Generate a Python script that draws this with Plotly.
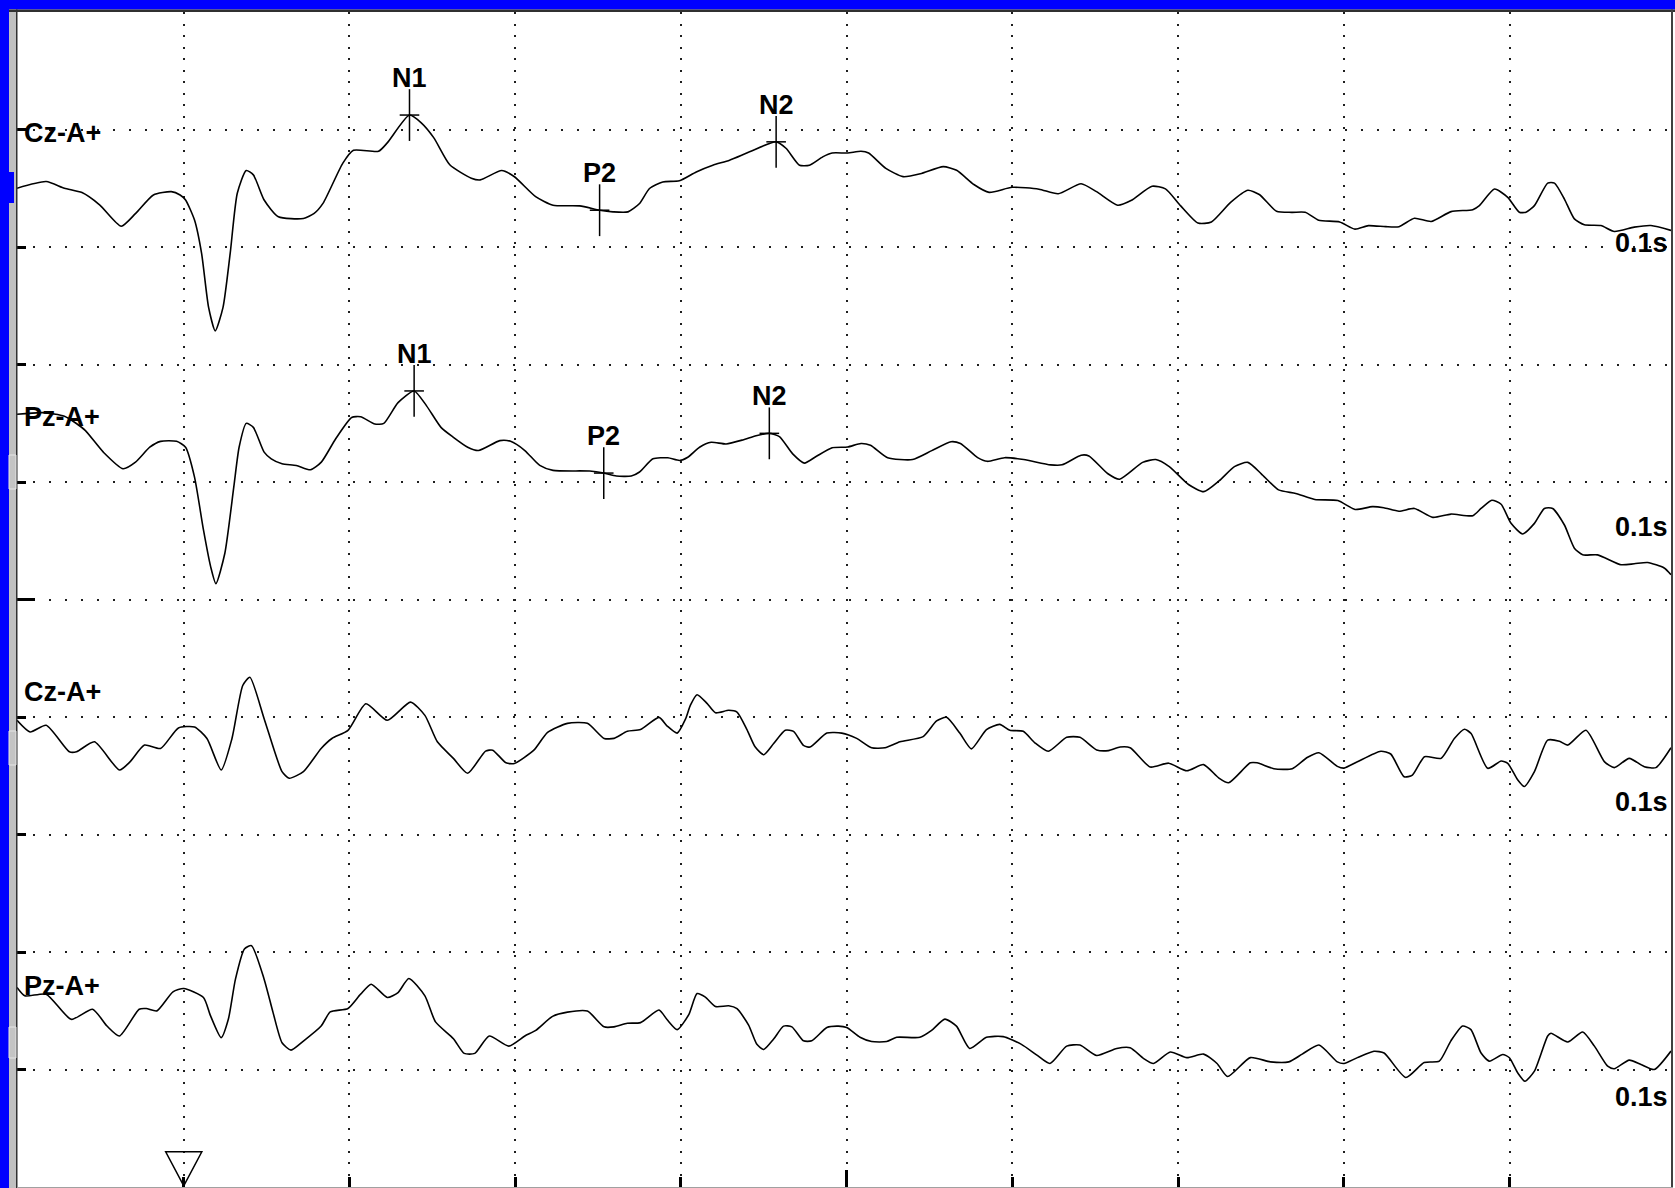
import plotly.graph_objects as go

# ---------------------------------------------------------------------------
# Averaged evoked responses, four channels, time in ms relative to stimulus.
# Amplitudes in microvolts, plotted negative-up (clinical convention).
# ---------------------------------------------------------------------------
T_MIN, T_MAX = -100.6, 897.3
STIM_ONSET = 0.0
UV_PER_DIV = 10.0                      # one grid division = 10 uV
CH_NAMES = ["Cz-A+", "Pz-A+", "Cz-A+", "Pz-A+"]
CH_OFFSET = [7.5, 5.4, 2.8, 0.5]       # trace baselines, in grid divisions
CH_LABEL_Y = [7.97, 5.55, 3.21, 0.71]  # name label heights, grid divisions
SWEEP_LABEL = "0.1s"
SWEEP_LABEL_Y = [7.03, 4.62, 2.28, -0.23]

cz1_t = [-100.6, -83, -72, -61.4, -50.6, -37.7, -29, -18.3, -7.5, -2.2, 1.1, 6.5,
         10.8, 15, 19, 23.7, 28, 32.3, 37.7, 42, 48.5, 57.1, 72.2, 78.7, 84, 96,
         102.4, 117.5, 122.8, 136.2, 143.3, 150.9, 160.5, 173.5, 178.9, 191.8,
         199.3, 212.3, 222.8, 238.9, 250.9, 259, 268, 275, 281, 289, 299, 309.2,
         319.2, 329.3, 341.4, 357.4, 363.5, 371.5, 377.5, 385.5, 391.2, 400.5,
         408.6, 413.2, 423.6, 434, 444.4, 458.2, 466.3, 476.7, 485.9, 499.8, 516,
         527.6, 541.4, 550.7, 563.4, 571.5, 584.2, 592.3, 601.5, 611.9, 620,
         631.6, 642, 648.9, 659.3, 668.5, 676.6, 684.7, 697.4, 706.6, 714.7,
         725.2, 733.2, 742.5, 752.6, 764.6, 777.7, 781.7, 790.8, 798.8, 805.8,
         809.8, 814.9, 822.9, 827, 833, 839, 845, 855, 863.1, 875.1, 885.2, 897.3]
cz1_uv = [0.0, -0.57, 0.0, 0.37, 1.43, 3.23, 2.14, 0.57, 0.29, 0.57, 1.0, 2.71,
          5.57, 10.14, 12.14, 10.14, 5.57, 0.43, -1.51, -1.14, 1.0, 2.43, 2.57,
          2.14, 1.29, -2.14, -3.23, -3.14, -3.86, -6.23, -5.57, -4.29, -2.0,
          -0.86, -0.71, -1.51, -1.0, 0.71, 1.44, 1.5, 1.87, 2.01, 2.01, 1.3, 0.02,
          -0.54, -0.63, -1.39, -1.96, -2.39, -3.1, -3.95, -3.38, -1.96, -1.96,
          -2.67, -3.0, -3.0, -3.15, -3.0, -1.69, -0.99, -1.23, -1.84, -1.53,
          -0.32, 0.35, -0.08, 0.08, 0.47, -0.38, 0.29, 1.44, 1.05, -0.17, 0.05,
          1.5, 2.96, 2.87, 1.2, 0.17, 0.53, 1.96, 2.05, 2.05, 2.72, 2.87, 3.48,
          3.18, 3.27, 3.27, 2.55, 2.83, 1.99, 1.82, 1.48, 0.07, 0.77, 2.04, 2.04,
          1.48, -0.44, -0.44, 0.92, 2.61, 3.11, 3.17, 3.68, 3.31, 3.17, 3.59]

pz1_t = [-100.6, -85, -72, -65, -59.3, -48.5, -36.6, -29.1, -20.5, -14, -4.3, 1.1,
         6.5, 11.9, 16.2, 19.4, 24.8, 30.2, 33.4, 37.7, 42, 48.5, 52.8, 59.3,
         67.9, 76.5, 83, 91.6, 101.3, 106.7, 115.3, 120.7, 129.3, 139, 146.5,
         155.2, 162.7, 171.3, 177.8, 190.7, 197.2, 205.8, 214.8, 222.8, 244.9,
         253.4, 261, 270, 275, 283.1, 292.1, 299.1, 304.1, 311.2, 318.2, 327.2,
         337.3, 345.3, 353.3, 359.4, 367.4, 374.4, 381.5, 391.2, 400.5, 408.6,
         414.3, 424.7, 439.7, 451.3, 462.9, 468.6, 479, 484.8, 495.2, 506.8, 523,
         529.9, 541.4, 546.1, 557.6, 564.6, 578.5, 586.5, 594.6, 606.2, 615.4,
         624.6, 633.9, 642, 650.1, 660.5, 670.9, 682.4, 696.3, 706.7, 717.1, 724,
         733.2, 742.5, 753.6, 764.6, 777.7, 782.7, 789.2, 794.8, 800.8, 807.8,
         814.9, 820.9, 825.9, 833, 839, 844, 853, 867.1, 875.1, 883.2, 893.2, 897.3]
pz1_uv = [-1.77, -1.9, -1.6, -1.0, -0.37, 1.46, 2.87, 2.31, 1.04, 0.54, 0.54, 1.04,
          3.58, 8.08, 11.18, 12.65, 10.06, 4.42, 1.04, -0.99, -0.65, 1.46, 2.03,
          2.45, 2.59, 2.96, 2.31, 0.34, -1.49, -1.55, -0.93, -0.99, -2.76, -3.75,
          -2.48, -0.65, 0.2, 1.04, 1.32, 0.48, 0.54, 1.32, 2.59, 3.01, 3.07, 3.24,
          3.49, 3.49, 3.15, 2.03, 1.94, 2.17, 1.89, 1.04, 0.62, 0.76, 0.42, 0.06,
          -0.14, 0.14, 1.61, 2.39, 1.83, 1.08, 1.02, 0.72, 0.87, 1.93, 2.09, 1.33,
          0.57, 0.72, 1.93, 2.24, 1.93, 2.09, 2.54, 2.54, 1.72, 1.78, 3.3, 3.76,
          2.33, 2.09, 2.69, 4.21, 4.82, 3.91, 2.69, 2.33, 3.3, 4.67, 4.97, 5.49,
          5.58, 6.34, 6.1, 6.19, 6.49, 6.25, 7.01, 6.73, 6.87, 6.25, 5.55, 5.89,
          7.52, 8.42, 7.52, 6.25, 6.25, 7.66, 9.63, 10.2, 10.2, 11.04, 10.96,
          10.85, 11.32, 11.89]

cz2_t = [-100.6, -92.7, -83, -69, -64.7, -53.9, -38.8, -32.3, -23.7, -14, -3.2, 6.5,
         14, 22.6, 29.1, 35.6, 39.9, 48.5, 59.3, 63.6, 72.2, 82.9, 89.4, 99.1,
         109.9, 122.8, 136.8, 145.5, 153, 162.7, 171.3, 182.1, 186.4, 194.4,
         199.4, 211.4, 219.5, 231.5, 243.5, 253.6, 259.6, 267.6, 275.6, 286.7,
         291.7, 297.7, 302.7, 305.7, 309.7, 315.7, 320.8, 328.8, 333.8, 339.8,
         344.8, 349.9, 355.9, 362.9, 367.9, 373.9, 377.9, 388, 397, 406, 415,
         423.1, 432.1, 446.1, 454.2, 460.2, 468.2, 475.2, 484.3, 492.3, 498.4,
         506.5, 513.5, 521.6, 532.7, 540.7, 550.8, 557.9, 564.9, 571, 583.1, 594.2,
         605.2, 615.3, 624.4, 630.4, 643.5, 647.6, 657.7, 668.8, 677.8, 684.9, 696,
         700, 708.1, 722.2, 728.2, 736.3, 741.3, 748.6, 758.6, 766.6, 772.7, 776.7,
         786.7, 794.8, 798.8, 804.8, 808.8, 814.9, 822.9, 830, 835, 846, 857.1,
         863.1, 872.1, 881.2, 888.2, 897.3]
cz2_uv = [-1.72, -0.73, -1.3, 0.96, 0.96, 0.11, 2.51, 1.8, 0.39, 0.68, -1.07, -1.15,
          -0.17, 2.51, -0.17, -4.68, -5.38, -1.86, 2.65, 3.21, 2.65, 0.68, -0.17,
          -0.87, -3.13, -1.72, -3.27, -2.14, 0.11, 1.52, 2.79, 0.9, 0.82, 1.9,
          1.96, 0.8, -0.69, -1.46, -1.46, -0.18, -0.18, -0.78, -0.93, -1.97,
          -1.23, -0.63, -1.82, -3.01, -3.9, -3.16, -2.36, -2.57, -2.42, -0.93,
          0.56, 1.21, 0.26, -0.87, -0.78, 0.41, 0.56, -0.63, -0.63, -0.18, 0.62,
          0.62, 0.11, -0.33, -1.67, -1.97, -0.63, 0.71, -0.93, -1.37, -0.87, -0.78,
          0.2, 0.92, -0.27, -0.27, 0.8, 0.86, 0.56, 0.62, 2.26, 1.93, 2.58, 2.05,
          3.18, 3.6, 1.9, 1.9, 2.4, 2.4, 1.45, 1.04, 2.2, 2.35, 1.81, 0.92, 1.15,
          3.09, 2.94, 1.38, 1.52, -0.17, -0.96, -0.59, 2.37, 1.75, 1.94, 3.35,
          3.92, 2.65, -0.03, 0.06, 0.39, -0.87, 1.8, 2.31, 1.52, 2.23, 2.31, 0.62]

pz2_t = [-100.6, -95.9, -83, -67.9, -55, -46.3, -38.8, -26.9, -22.6, -16.2, -6.5, 0,
         11.9, 16.2, 22.6, 26.9, 31.2, 36.6, 40.9, 48.5, 53.9, 59.3, 64.7, 72.2,
         82.9, 88.4, 99.1, 106.7, 113.1, 122.8, 129.3, 135.8, 145.5, 151.9, 162.7,
         169.2, 175.6, 184.3, 196.1, 205.8, 212.4, 222.5, 231.5, 243.5, 253.6,
         259.6, 267.6, 275.6, 286.7, 291.7, 297.7, 304.7, 309.7, 314.7, 320.8,
         328.8, 333.8, 340.8, 345.8, 349.9, 355.9, 361.9, 366.9, 373.9, 378.9, 388,
         395, 400, 408, 415, 424.1, 430.1, 444.1, 451.2, 459.2, 466.2, 474.2, 484.3,
         494.4, 505.4, 514.5, 522.6, 532.7, 540.7, 550.8, 562.9, 571, 579, 585.1,
         595.2, 605.2, 615.3, 623.4, 629.8, 643.5, 655.6, 666.7, 674.8, 684.9, 696,
         700, 708.1, 718.1, 724.2, 737.3, 748.4, 757.5, 764.5, 771.6, 776.6, 782.7,
         787.7, 795.8, 799.8, 804.8, 809.2, 814.9, 822.9, 824.9, 835, 844, 851.1,
         859.1, 863.1, 872.1, 879.2, 887.2, 897.3]
pz2_uv = [-1.98, -1.27, -1.41, 0.73, -0.13, 1.3, 2.15, -0.13, -0.19, 0.01, -1.61,
          -1.89, -1.13, 0.44, 2.29, 0.73, -2.69, -5.26, -5.54, -2.69, 0.16, 2.72,
          3.35, 2.58, 1.3, 0.1, -0.19, -1.41, -2.26, -1.13, -1.55, -2.75, -1.27,
          0.95, 2.38, 3.63, 3.63, 2.15, 3.01, 2.15, 1.67, 0.48, 0.12, 0.03, 1.37,
          1.37, 1.07, 1.01, -0.06, 0.77, 1.61, 0.33, -1.46, -1.16, -0.36, -0.42,
          -0.18, 1.22, 2.86, 3.3, 2.41, 1.31, 1.37, 2.56, 2.56, 1.43, 1.31, 1.43,
          2.26, 2.62, 2.62, 2.26, 2.26, 1.67, 0.71, 1.31, 3.21, 2.26, 2.2, 2.86,
          3.75, 4.49, 3.01, 2.92, 3.81, 3.21, 3.15, 4.05, 4.49, 3.51, 3.99, 3.69,
          4.49, 5.6, 3.99, 4.35, 4.35, 3.69, 2.92, 4.35, 4.49, 3.99, 3.45, 3.6,
          5.68, 4.4, 4.29, 2.56, 1.3, 1.61, 3.6, 4.29, 3.72, 4.0, 5.28, 6.0, 5.14,
          2.15, 1.92, 2.66, 1.81, 3.01, 4.72, 4.94, 4.2, 4.57, 5.0, 3.43]

# Component latencies (ms) marked on the first two channels
PEAKS = [
    {"N1": 136.2, "P2": 250.9, "N2": 357.4},
    {"N1": 139.0, "P2": 253.4, "N2": 353.3},
    {},
    {},
]

SERIES = [(cz1_t, cz1_uv), (pz1_t, pz1_uv), (cz2_t, cz2_uv), (pz2_t, pz2_uv)]

W, H = 1675, 1188
M_L, M_R, M_T, M_B = 17, 4, 12, 1
PLOT_W = W - M_L - M_R
PLOT_H = H - M_T - M_B


def px_x(px):
    return (px - M_L) / PLOT_W


def px_y(py):
    return (H - M_B - py) / PLOT_H


LABEL_FONT = dict(family="Liberation Sans, Arial, sans-serif", size=27,
                  color="black", weight="bold")

fig = go.Figure()

for i, (t, uv) in enumerate(SERIES):
    y = [CH_OFFSET[i] - v / UV_PER_DIV for v in uv]
    fig.add_trace(go.Scatter(x=t, y=y, mode="lines",
                             line=dict(color="black", width=1.6,
                                       shape="spline", smoothing=0.6),
                             hoverinfo="skip", showlegend=False))
    if PEAKS[i]:
        px, py, names = [], [], []
        for name, lat in PEAKS[i].items():
            k = t.index(lat)
            px.append(lat)
            py.append(CH_OFFSET[i] - uv[k] / UV_PER_DIV)
            names.append(name)
        for sym, size in (("line-ns", 37), ("line-ew", 14)):
            fig.add_trace(go.Scatter(x=px, y=py, mode="markers",
                                     marker=dict(symbol=sym, size=size,
                                                 line=dict(color="black", width=1.5)),
                                     hoverinfo="skip", showlegend=False))
        for xx, yy, nm in zip(px, py, names):
            fig.add_annotation(x=xx, y=yy, text=nm, showarrow=False, yshift=37,
                               font=LABEL_FONT)

for i, name in enumerate(CH_NAMES):
    fig.add_annotation(x=px_x(22), xref="paper", y=CH_LABEL_Y[i], yref="y",
                       text=name, showarrow=False, xanchor="left",
                       font=LABEL_FONT)
    fig.add_annotation(x=px_x(1670), xref="paper", y=SWEEP_LABEL_Y[i], yref="y",
                       text=SWEEP_LABEL, showarrow=False, xanchor="right",
                       font=LABEL_FONT)

# stimulus onset marker
hw = 10.9
fig.add_shape(type="path", xref="x", yref="y",
              path=f"M{STIM_ONSET - hw},-0.70 L{STIM_ONSET + hw},-0.70 "
                   f"L{STIM_ONSET},-0.99 Z",
              line=dict(color="black", width=1.5), fillcolor="rgba(0,0,0,0)")

# window frame: title strip, channel strip, borders
frame = [
    (0, 9, W, 9.5, "#0000FF"),            # left blue edge (x0, y0, x1, y1 in px)
]
def rect(x0, y0, x1, y1, color, line=None):
    fig.add_shape(type="rect", xref="paper", yref="paper",
                  x0=px_x(x0), x1=px_x(x1), y0=px_y(y1), y1=px_y(y0),
                  fillcolor=color, line=dict(width=0) if line is None else line,
                  layer="above")

rect(0, 0, W, 9.5, "#0000FF")
rect(0, 0, 9, H, "#0000FF")
rect(9, 9.5, 16, H, "#C0C0C0")
rect(16, 9.5, 17.5, H, "#303030")
rect(9, 9.5, W, 12, "#303030")
rect(1671, 9.5, 1673, H, "#404040")
rect(17, 1187, 1673, H, "#A0A0A0")
rect(9, 172, 14, 203, "#0000FF")
for y0, y1 in ((455, 489), (731, 765), (1027, 1058)):
    rect(9, y0, 16, y1, "#C4C4C4", line=dict(color="#E6E6E6", width=1))

fig.update_layout(
    width=W, height=H,
    margin=dict(l=M_L, r=M_R, t=M_T, b=M_B, pad=0),
    paper_bgcolor="white", plot_bgcolor="white",
    showlegend=False,
    xaxis=dict(range=[T_MIN, T_MAX], tickvals=list(range(0, 801, 100)),
               showticklabels=False, ticks="inside", ticklen=10, tickwidth=3,
               tickcolor="black", showgrid=True, gridcolor="#1e1e1e",
               gridwidth=2, griddash="2px,9.5px", zeroline=False,
               showline=False, fixedrange=True),
    xaxis2=dict(range=[T_MIN, T_MAX], overlaying="x", tickvals=[400],
                showticklabels=False, ticks="inside", ticklen=17, tickwidth=3,
                tickcolor="black", showgrid=False, zeroline=False,
                showline=False, side="bottom"),
    yaxis=dict(range=[-1.0, 9.0], tickvals=list(range(0, 9)),
               showticklabels=False, ticks="inside", ticklen=9, tickwidth=3,
               tickcolor="black", showgrid=True, gridcolor="#1e1e1e",
               gridwidth=2, griddash="2px,14px", zeroline=False,
               showline=False, fixedrange=True),
    yaxis2=dict(range=[-1.0, 9.0], overlaying="y", tickvals=[4],
                showticklabels=False, ticks="inside", ticklen=18, tickwidth=3,
                tickcolor="black", showgrid=False, zeroline=False,
                showline=False, side="left"),
)

# empty trace so the secondary axes are drawn
fig.add_trace(go.Scatter(x=[None], y=[None], xaxis="x2", yaxis="y2",
                         showlegend=False, hoverinfo="skip"))

fig.write_html("out.html")
